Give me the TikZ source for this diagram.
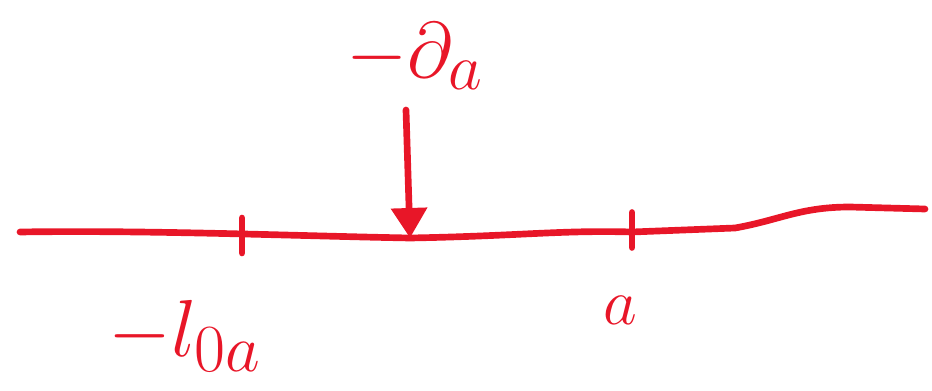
\documentclass[tikz,border=0pt]{standalone}
\usepackage{amsmath,amssymb}
\usepackage{graphicx}
\usepackage{xcolor}
\usetikzlibrary{arrows.meta, positioning}
\definecolor{pen}{RGB}{232,22,40}
\newcommand{\bigpen}[2]{\scalebox{#1}{\Huge #2}}

\begin{document}
\begin{tikzpicture}[
    x=0.02cm, y=-0.02cm,
    pen/.style={draw=pen, line width=3.8pt, line cap=round, line join=round},
    lbl/.style={text=pen, inner sep=0pt},
    arrow/.style={pen, -{Triangle[length=6mm, width=7mm, fill=pen]}}
]
\useasboundingbox (0,0) rectangle (932,391);

% Axis
\coordinate (left) at (20,232);
\coordinate (hit) at (410,238);
\coordinate (right) at (925,209);
\draw[pen] (left) .. controls (150,230) and (300,236) .. (hit)
    .. controls (520,236) and (560,230) .. (632,232)
    -- (735,228) .. controls (780,220) and (800,207) .. (850,207) -- (right);

% Ticks
\coordinate (tickl) at (242,238);
\coordinate (tickr) at (632,230);
\draw[pen] ([yshift=-0.3cm]tickl) -- ([yshift=0.4cm]tickl);
\draw[pen] ([yshift=-0.35cm]tickr) -- ([yshift=0.35cm]tickr);

% Labels
\node[lbl] (dlbl) at (415,56) {\bigpen{1.8}{$-\partial_a$}};
\node[lbl] (llbl) at (185,336) {\bigpen{1.85}{$-l_{0a}$}};
\node[lbl] (albl) at (620,310) {\bigpen{1.5}{$a$}};

% Arrow
\draw[arrow] (406,110) -- (hit);

\end{tikzpicture}
\end{document}
